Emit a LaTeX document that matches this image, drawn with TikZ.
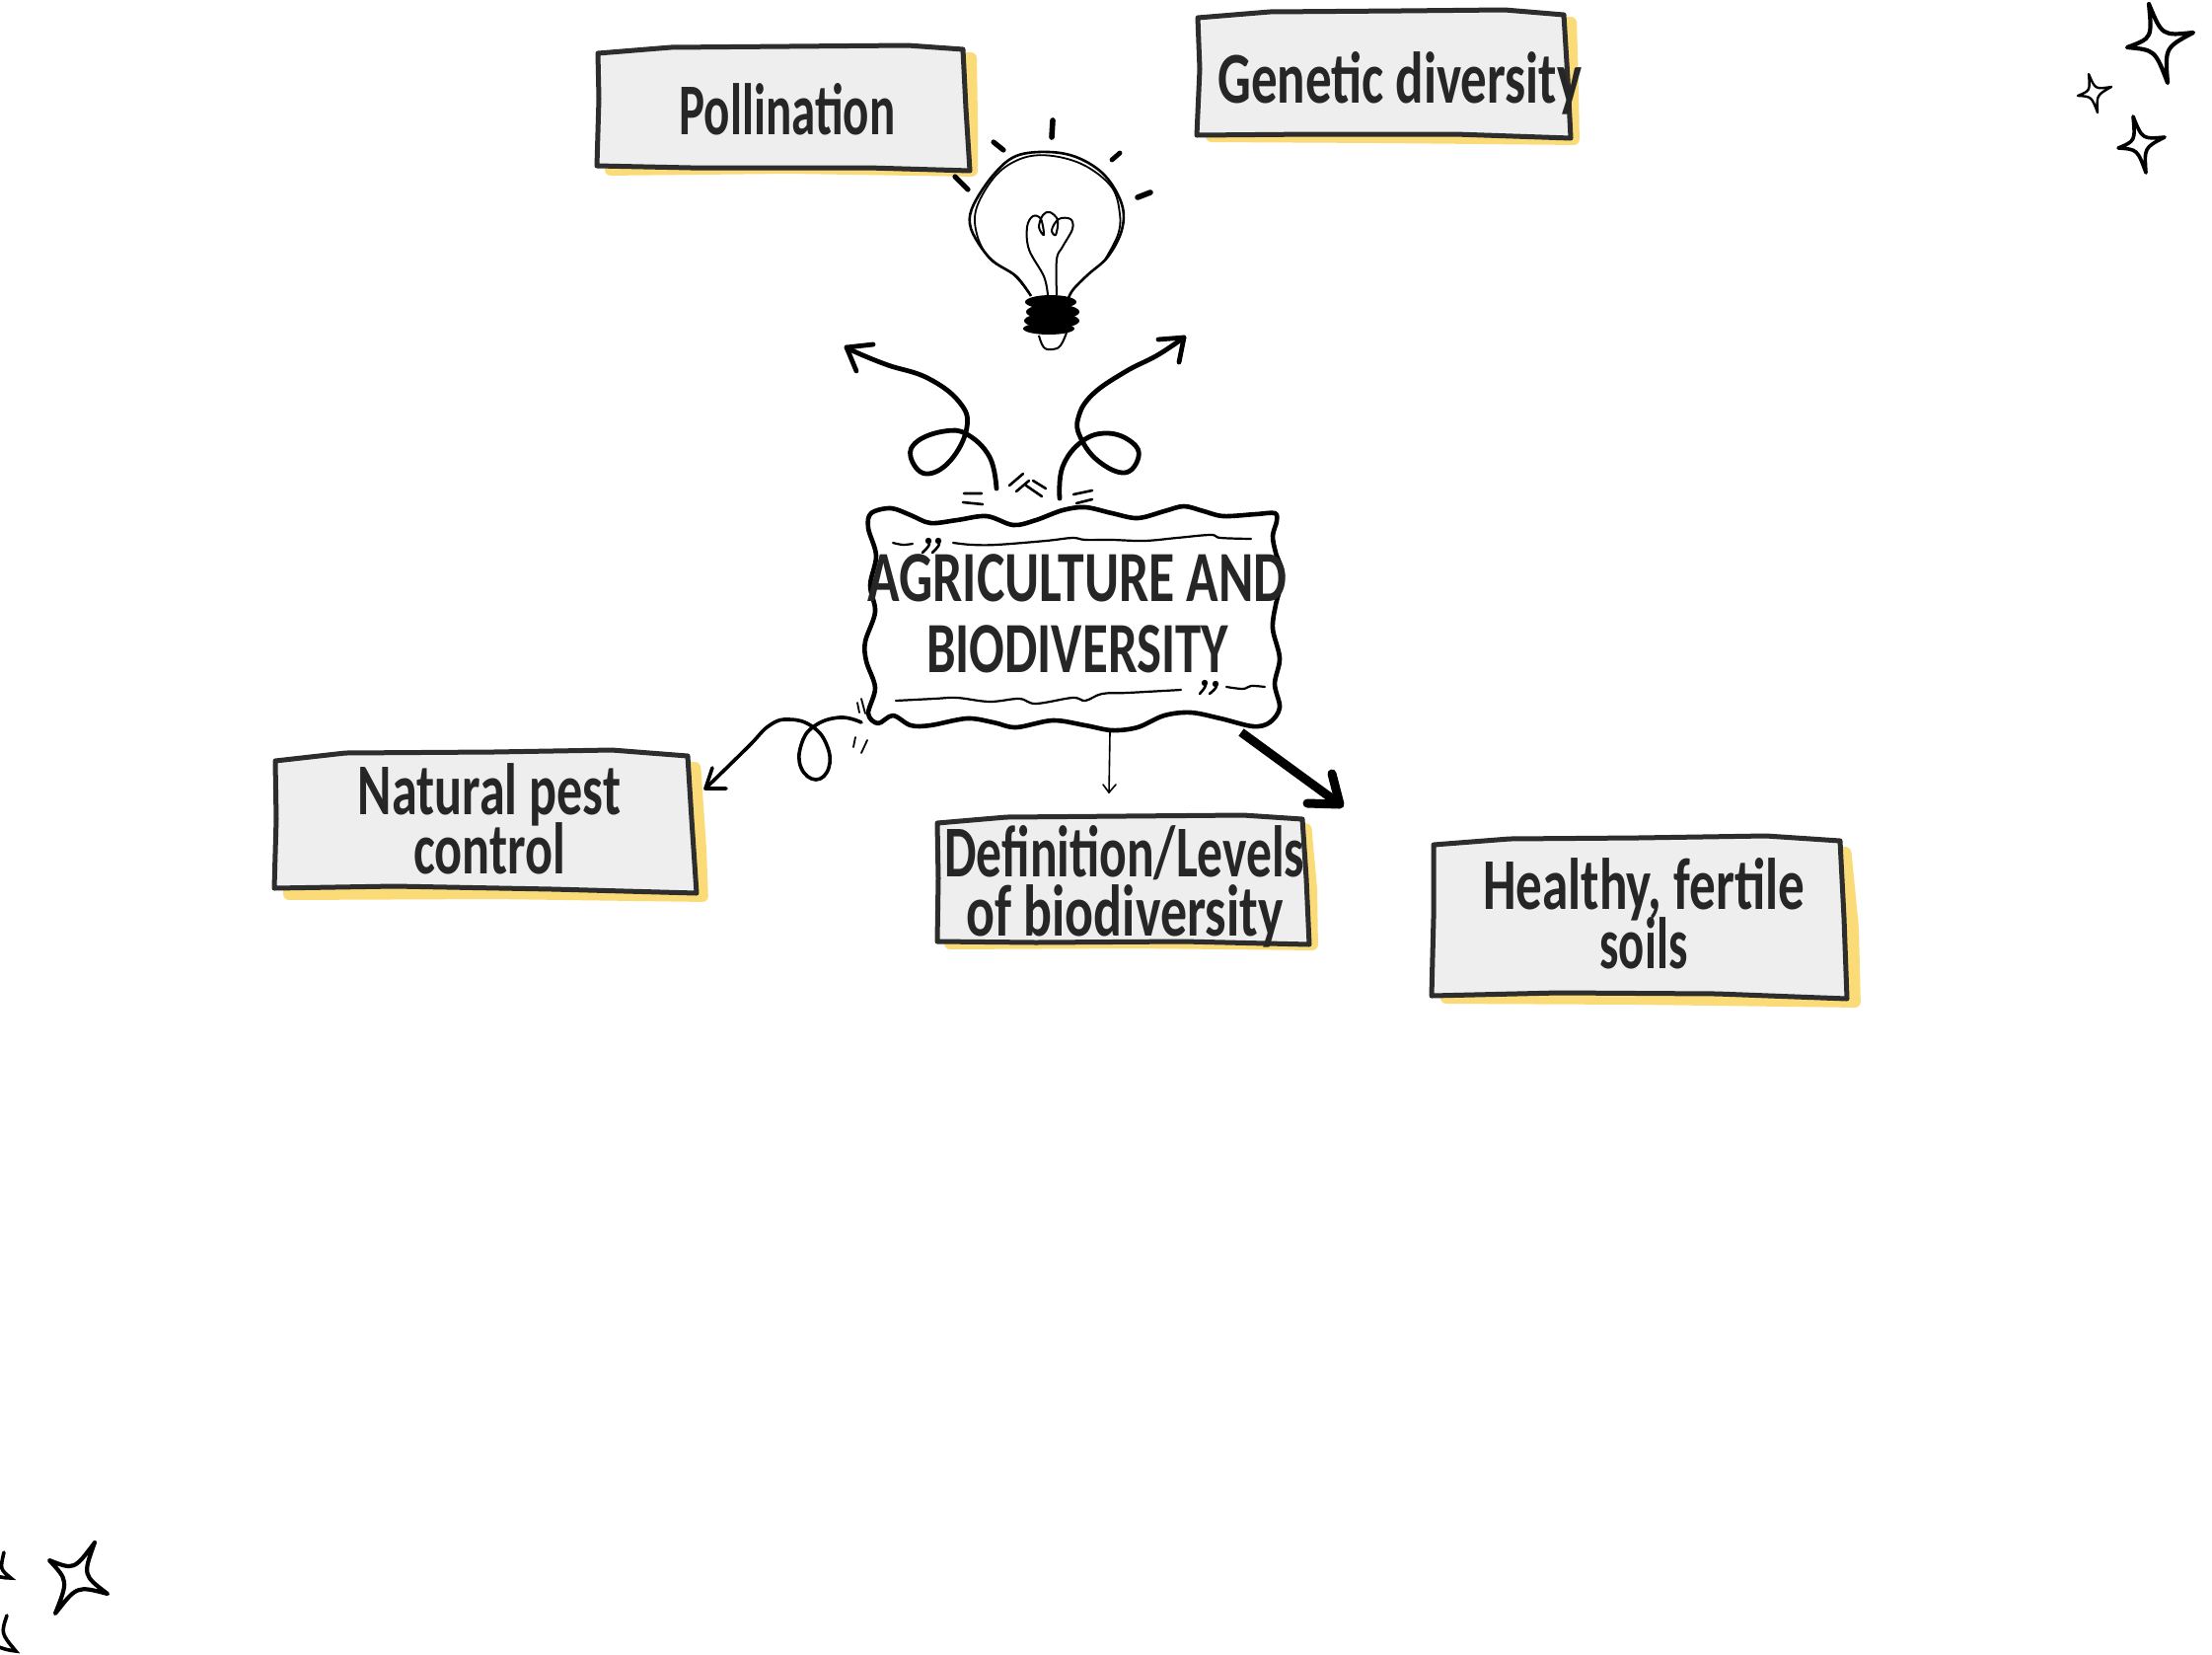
\documentclass[tikz,border=0pt]{standalone}
\usepackage{fontspec}
\usepackage{graphicx}
\setmainfont{Carlito}
\usetikzlibrary{calc}
\definecolor{boxfill}{HTML}{EEEEEE}
\definecolor{boxline}{HTML}{2D2D2D}
\definecolor{note}{HTML}{FBDB78}
\definecolor{ink}{HTML}{262626}
\newcommand\hw[2]{\resizebox{#1pt}{\height}{#2}}
\newcommand\boxfnt{\bfseries\fontsize{37}{30}\selectfont\lineskiplimit=-100pt\relax}
\newcommand\titlefnt{\bfseries\fontsize{36.5}{36}\selectfont\lineskiplimit=-100pt\relax}
\newcommand\sparkle[5]{%
  \coordinate (ctr) at ($#2!.5!#4$);
  \draw[line width=#1,line cap=round,line join=round] #2
   .. controls ($(ctr)!.3!($#2!.5!#3$)$) .. #3
   .. controls ($(ctr)!.3!($#3!.5!#4$)$) .. #4
   .. controls ($(ctr)!.3!($#4!.5!#5$)$) .. #5
   .. controls ($(ctr)!.3!($#5!.5!#2$)$) .. #2;}
\tikzset{
  shadowbox/.style={fill=note,rounded corners=3},
  sketchbox/.style={fill=boxfill,draw=boxline,line width=2.5pt,line join=round},
  boxtext/.style={anchor=base,align=center,text=ink,inner sep=0pt,font=\boxfnt},
  titletext/.style={anchor=base,align=center,text=ink,inner sep=0pt,font=\titlefnt},
  conn/.style={line cap=round,line join=round,black},
  tick/.style={line width=1.3pt,line cap=round,black},
  thin curve/.style={line width=1.1pt,line cap=round,line join=round,black},
}
\begin{document}
\begin{tikzpicture}[x=0.5pt,y=-0.5pt]
\useasboundingbox (0,0) rectangle (2242,1676);

% ---- Pollination
\fill[shadowbox] (613,53) -- (990,53) -- (991,120) -- (991,179) -- (800,176) -- (613,178) -- cycle;
\draw[sketchbox] (606,54) -- (680,48) -- (800,47) -- (920,46) -- (976,50) -- (979,110) -- (983,173) -- (880,170) -- (700,170) -- (605,168) -- (607,100) -- cycle;
\node[boxtext] (poll) at (798,136) {\hw{109.5}{Pollination}};

% ---- Genetic diversity
\fill[shadowbox] (1222,17) -- (1598,17) -- (1600,90) -- (1601,147) -- (1400,145) -- (1222,144) -- cycle;
\draw[sketchbox] (1214,18) -- (1287,12) -- (1420,11) -- (1525,10) -- (1585,15) -- (1589,80) -- (1592,140) -- (1475,136) -- (1330,136) -- (1213,137) -- (1216,70) -- cycle;
\node[boxtext] (gene) at (1419,104) {\hw{184.5}{Genetic diversity}};

% ---- Natural pest control
\fill[shadowbox] (287,772) -- (710,772) -- (716,860) -- (718,914) -- (500,911) -- (287,912) -- cycle;
\draw[sketchbox] (279,771) -- (350,763) -- (500,762) -- (620,760) -- (697,766) -- (701,830) -- (706,905) -- (560,901) -- (400,898) -- (278,900) -- (280,830) -- cycle;
\node[boxtext] (pest) at (496,885) {\hw{133}{Natural pest}\\\hw{77}{control}};

% ---- Definition/Levels
\fill[shadowbox] (957,834) -- (1329,834) -- (1335,900) -- (1336,963) -- (1150,961) -- (957,962) -- cycle;
\draw[sketchbox] (950,834) -- (1020,828) -- (1140,827) -- (1260,826) -- (1320,830) -- (1324,890) -- (1327,957) -- (1200,954) -- (1050,955) -- (950,954) -- (951,890) -- cycle;
\node[boxtext] (defs) at (1140,948) {\hw{182.5}{Definition/Levels}\\\hw{160.5}{of biodiversity}};

% ---- Healthy, fertile soils
\fill[shadowbox] (1460,858) -- (1876,858) -- (1884,940) -- (1886,1021) -- (1660,1018) -- (1460,1017) -- cycle;
\draw[sketchbox] (1453,856) -- (1530,850) -- (1660,849) -- (1790,847) -- (1865,852) -- (1869,930) -- (1872,1012) -- (1740,1007) -- (1580,1006) -- (1451,1009) -- (1453,930) -- cycle;
\node[boxtext] (soil) at (1666,981) {\hw{163}{Healthy, fertile}\\\hw{44.5}{soils}};

% ---- Central wavy frame
\draw[line width=2.3pt,line join=round,black] plot[smooth cycle,tension=.55] coordinates {
 (883,520) (903,515) (923,522) (943,530) (970,527) (1000,523) (1027,532) (1050,527) (1077,517) (1100,514) (1127,520) (1153,525) (1180,518) (1200,513) (1220,518) (1240,523) (1273,521) (1292,520) (1294,528)
 (1290,543) (1293,560) (1300,583) (1293,613) (1290,637) (1297,667) (1292,693) (1297,717) (1287,732) (1270,736)
 (1237,728) (1207,722) (1180,725) (1153,737) (1127,740) (1100,735) (1067,730) (1030,737) (1007,732) (980,728) (943,735) (923,735) (905,725) (890,733) (880,723)
 (887,697) (878,670) (877,650) (887,620) (882,593) (888,563) (880,535)};
% inner squiggles
\draw[thin curve] plot[smooth,tension=.6] coordinates {(905,550) (915,552) (925,551)};
\draw[thin curve] plot[smooth,tension=.6] coordinates {(966,550) (985,552) (1010,552) (1060,548) (1087,545) (1100,547) (1127,547) (1160,548) (1193,545) (1227,542) (1237,545) (1268,546)};
\draw[thin curve] plot[smooth,tension=.6] coordinates {(908,710) (947,708) (970,707) (1003,711) (1033,708) (1050,713) (1087,707) (1100,710) (1117,703) (1143,702) (1197,699)};
\draw[thin curve] plot[smooth,tension=.6] coordinates {(1243,696) (1260,698) (1268,695) (1282,696)};
\draw[line width=1.3pt,line cap=round] (942,548) .. controls (942,553) .. (935,560) (952,548) .. controls (952,553) .. (945,560);
\fill (941,548) circle (3.2) (951,548) circle (3.2);
\draw[line width=1.3pt,line cap=round] (1222,691) .. controls (1222,696) .. (1216,703) (1233,692) .. controls (1233,697) .. (1226,703);
\fill (1221,692) circle (3.2) (1232,693) circle (3.2);
\node[titletext] (title) at (1092,681) {\hw{212.5}{AGRICULTURE AND}\\\hw{153}{BIODIVERSITY}};

% ---- Light bulb
\draw[line width=1.3pt,line join=round] plot[smooth,tension=.6] coordinates {(1045,300) (1030,280) (1007,265) (992,247) (983,227) (987,207) (1007,177) (1030,158) (1063,154) (1093,160) (1120,178) (1137,207) (1137,233) (1123,260) (1103,278) (1088,293) (1083,302)};
\draw[line width=.9pt,line join=round] plot[smooth,tension=.6] coordinates {(1043,297) (1027,278) (1003,262) (990,237) (990,210) (1010,177) (1037,160) (1067,158) (1100,168) (1127,190) (1135,217) (1133,238) (1120,263)};
\draw[line width=1pt,line join=round] plot[smooth,tension=.6] coordinates {(1062,299) (1058,280) (1043,253) (1041,230) (1047,219) (1055,222) (1058,238) (1053,230) (1057,218) (1064,215) (1072,223) (1070,238) (1066,233) (1073,222) (1085,222) (1087,232) (1077,250) (1071,263) (1071,299)};
\fill (1065,306) ellipse [x radius=26,y radius=7];
\fill (1067,316) ellipse [x radius=27,y radius=8];
\fill (1066,325) ellipse [x radius=28,y radius=8];
\fill (1063,333) ellipse [x radius=26,y radius=6];
\draw[line width=1pt] plot[smooth,tension=.7] coordinates {(1053,340) (1058,352) (1067,354) (1075,350) (1081,337)};
\draw[line width=2.8pt,line cap=round] (1067,122) -- (1066,139);
\draw[line width=2.6pt,line cap=round] (1007,144) -- (1017,152);
\draw[line width=2.6pt,line cap=round] (968,179) -- (981,192);
\draw[line width=2.4pt,line cap=round] (1135,155) -- (1127,162);
\draw[line width=2.8pt,line cap=round] (1166,195) -- (1153,200);

% ---- Connectors
\coordinate (a1s) at (1010,495); \coordinate (a1t) at (858,352);
\draw[conn,line width=2.4pt] plot[smooth,tension=.7] coordinates {(a1s) (1003,463) (980,440) (957,437) (930,447) (923,463) (938,480) (963,467) (980,433) (972,407) (940,383) (900,370) (870,358) (a1t)};
\draw[conn,line width=2.4pt] (885,349) -- (a1t) -- (868,376);

\coordinate (a2s) at (1074,505); \coordinate (a2t) at (1200,342);
\draw[conn,line width=2.4pt] plot[smooth,tension=.7] coordinates {(a2s) (1077,473) (1097,447) (1123,439) (1147,448) (1154,463) (1140,479) (1113,467) (1095,443) (1093,423) (1107,400) (1140,377) (1173,360) (a2t)};
\draw[conn,line width=2.4pt] (1174,344) -- (a2t) -- (1195,367);

\coordinate (a3s) at (873,732); \coordinate (a3t) at (715,799);
\draw[conn,line width=1.8pt] plot[smooth,tension=.75] coordinates {(a3s) (851,727) (825,736) (812,755) (812,778) (827,790) (840,778) (838,755) (823,736) (800,729) (780,735) (758,757) (a3t)};
\draw[conn,line width=1.8pt] (722,778) -- (a3t) -- (736,799);

\coordinate (a4s) at (1125,742); \coordinate (a4t) at (1124,803);
\draw[conn,line width=.8pt] (a4s) -- (a4t);
\draw[conn,line width=.8pt] (1118,795) -- (a4t) -- (1131,795);

\coordinate (a5s) at (1258,742); \coordinate (a5t) at (1358,815);
\draw[line width=4.5pt,line cap=butt] (a5s) -- (a5t);
\draw[conn,line width=4.5pt] (1350,784) -- (a5t) -- (1325,814);

% ---- Tick marks at connector starts
\draw[tick] (977,500) -- (995,500) (976,509) -- (996,511);
\draw[tick] (1023,492) -- (1037,480) (1030,498) -- (1043,487) (1047,487) -- (1060,495) (1040,492) -- (1056,503);
\draw[tick] (1088,501) -- (1107,497) (1091,510) -- (1107,506);
\draw[tick,line width=.9pt] (873,708) -- (877,723) (869,712) -- (871,722);
\draw[tick,line width=.9pt] (867,747) -- (865,757) (879,750) -- (873,763);

% ---- Sparkles
\sparkle{2.1pt}{(2178,4)}{(2223,33)}{(2197,84)}{(2156,48)}
\sparkle{1.2pt}{(2117,75)}{(2140,88)}{(2126,114)}{(2106,97)}
\sparkle{1.8pt}{(2162,118)}{(2194,139)}{(2175,175)}{(2147,150)}
\sparkle{2.1pt}{(96,1563)}{(109,1615)}{(56,1635)}{(50,1581)}
\draw[line width=1.8pt,line cap=round] (4,1573) .. controls (0,1590) .. (11,1599) .. controls (6,1599) .. (-4,1597);
\draw[line width=1.8pt,line cap=round] (7,1637) .. controls (1,1655) .. (16,1673) .. controls (8,1672) .. (-4,1668);
\end{tikzpicture}
\end{document}
